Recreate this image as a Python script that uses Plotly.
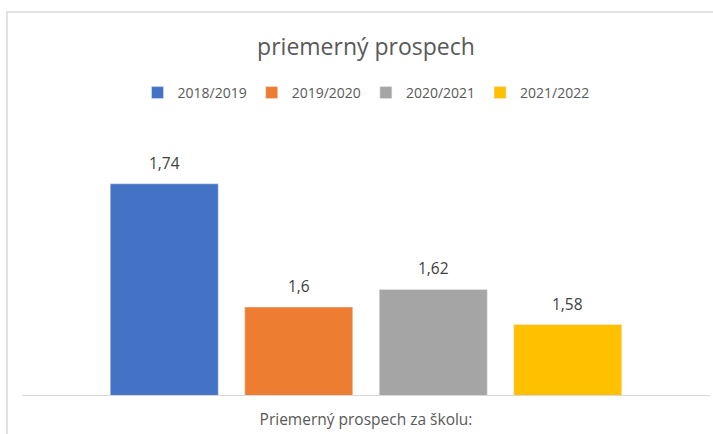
import plotly.graph_objects as go

series_names = ["2018/2019", "2019/2020", "2020/2021", "2021/2022"]
values = [1.74, 1.6, 1.62, 1.58]
category = ["Priemerný prospech za školu:"]
colors = ["#4472C4", "#ED7D31", "#A5A5A5", "#FFC000"]

W, H = 713, 434
ml, mr, mt, mb = 22, 3, 131, 39
pw, ph = W - ml - mr, H - mt - mb
bargap, bargroupgap = 0.218, 0.197

fig = go.Figure()
for name, v, c in zip(series_names, values, colors):
    fig.add_trace(go.Bar(x=category, y=[v], name=name, marker_color=c))

# data labels placed above each grouped bar
slot = pw * (1 - bargap) / len(values)
for i, v in enumerate(values):
    fig.add_annotation(x=category[0], y=v, xref="x", yref="y",
                       text=f"{v}".replace(".", ","), showarrow=False,
                       xshift=(i - (len(values) - 1) / 2) * slot, yshift=21,
                       yanchor="middle", font=dict(size=15.5, color="#404040"))

fig.update_layout(
    width=W, height=H,
    margin=dict(l=ml, r=mr, t=mt, b=mb),
    paper_bgcolor="white", plot_bgcolor="white",
    separators=", ",
    font=dict(family="Open Sans, sans-serif", color="#595959"),
    title=dict(text="priemerný prospech", x=0.5, xref="paper", xanchor="center",
               y=1 - 47 / H, yanchor="middle",
               font=dict(size=23, color="#595959")),
    legend=dict(orientation="h", x=0.5, xanchor="center", y=(395 - 93) / ph, yanchor="middle",
                font=dict(size=14, color="#595959"), itemwidth=30, traceorder="normal"),
    barmode="group", bargap=bargap, bargroupgap=bargroupgap,
    showlegend=True,
)
fig.update_xaxes(showline=True, linecolor="#D9D9D9", linewidth=1,
                 ticks="outside", ticklen=10, tickcolor="rgba(0,0,0,0)",
                 tickfont=dict(size=15.5, color="#595959"), showgrid=False)
fig.update_yaxes(range=[1.5, 1.8], visible=False, showgrid=False)

fig.add_shape(type="rect", xref="paper", yref="paper",
              x0=(7 - ml) / pw, x1=1.2, y0=-0.6, y1=(395 - 12) / ph,
              line=dict(color="#D9D9D9", width=1.5), fillcolor="rgba(0,0,0,0)", layer="below")

fig.write_html("out.html", config={"displayModeBar": False},
               post_script="document.body.style.margin='0';")
